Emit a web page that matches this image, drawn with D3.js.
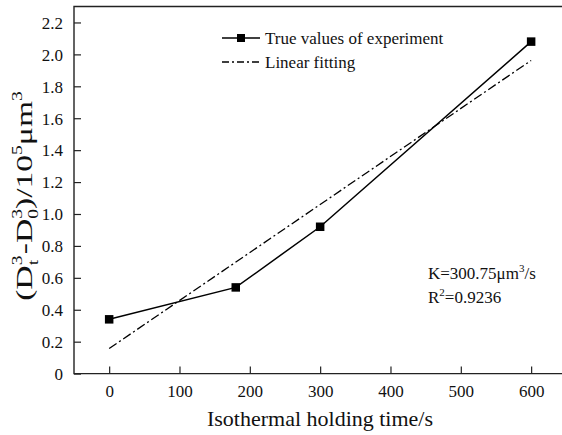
<!DOCTYPE html>
<html>
<head>
<meta charset="utf-8">
<script src="https://cdn.jsdelivr.net/npm/d3@7"></script>
<style>
  html, body { margin: 0; padding: 0; background: #fff; }
  svg { display: block; }
</style>
</head>
<body>
<svg id="chart" width="562" height="435"></svg>
<script>
// Isothermal holding time (s) and measured (Dt^3 - D0^3) in 10^5 µm^3
const times = [0, 180, 300, 600];
const growth = [0.34, 0.54, 0.92, 2.08];

// Linear fit end points (slope K = 300.75 µm^3/s)
const fitTimes = [0, 600];
const fitGrowth = [0.157, 1.962];

const xTicks = [0, 100, 200, 300, 400, 500, 600];
const yTicks = [0, 0.2, 0.4, 0.6, 0.8, 1.0, 1.2, 1.4, 1.6, 1.8, 2.0, 2.2];

const legendLabels = ["True values of experiment", "Linear fitting"];

const svg = d3.select("#chart");
const serif = "'Liberation Serif', 'Times New Roman', serif";

const x = d3.scaleLinear().domain([-50, 650]).range([74, 566.3]);
const y = d3.scaleLinear().domain([0, 2.3]).range([373.6, 6.5]);

const axisColor = "#222";

// Left axis, ticks pointing inward
const yAxis = svg.append("g")
  .attr("transform", `translate(${x(-50)},0)`)
  .call(d3.axisRight(y).tickValues(yTicks).tickSize(7).tickFormat(d => d === 0 ? "0" : d3.format(".1f")(d)));
yAxis.select(".domain").remove();
yAxis.selectAll(".tick line").attr("stroke", axisColor).attr("stroke-width", 1.2);
yAxis.selectAll(".tick text")
  .attr("x", -11).attr("text-anchor", "end").attr("dy", "0.34em")
  .style("font-family", serif).style("font-size", "17px")
  .attr("fill", "#111");

// Bottom axis, ticks pointing inward
const xAxis = svg.append("g")
  .attr("transform", `translate(0,${y(0)})`)
  .call(d3.axisTop(x).tickValues(xTicks).tickSize(7).tickFormat(d3.format("d")));
xAxis.select(".domain").remove();
xAxis.selectAll(".tick line").attr("stroke", axisColor).attr("stroke-width", 1.2);
xAxis.selectAll(".tick text")
  .attr("y", 23).attr("dy", 0)
  .style("font-family", serif).style("font-size", "17px")
  .attr("fill", "#111");

// Frame: left, bottom and top edges
const frame = d3.path();
frame.moveTo(x(650), y(2.3));
frame.lineTo(x(-50), y(2.3));
frame.lineTo(x(-50), y(0));
frame.lineTo(x(650), y(0));
svg.append("path").attr("d", frame.toString())
  .attr("fill", "none").attr("stroke", axisColor).attr("stroke-width", 1.4);

// Linear fitting line
const line = d3.line().x(d => x(d[0])).y(d => y(d[1]));
svg.append("path")
  .datum(fitTimes.map((t, i) => [t, fitGrowth[i]]))
  .attr("d", line)
  .attr("fill", "none").attr("stroke", "#000").attr("stroke-width", 1.3)
  .attr("stroke-dasharray", "9,3,2,3");

// Experimental values
const pts = times.map((t, i) => [t, growth[i]]);
svg.append("path")
  .datum(pts)
  .attr("d", line)
  .attr("fill", "none").attr("stroke", "#000").attr("stroke-width", 1.5);

const ms = 8.5;
svg.selectAll("rect.pt").data(pts).join("rect")
  .attr("class", "pt")
  .attr("x", d => x(d[0]) - ms / 2).attr("y", d => y(d[1]) - ms / 2)
  .attr("width", ms).attr("height", ms).attr("fill", "#000");

// Legend
const lg = svg.append("g");
lg.append("line").attr("x1", 222).attr("x2", 260).attr("y1", 38).attr("y2", 38)
  .attr("stroke", "#000").attr("stroke-width", 1.5);
lg.append("rect").attr("x", 241 - 4).attr("y", 38 - 4).attr("width", 8).attr("height", 8).attr("fill", "#000");
lg.append("line").attr("x1", 222).attr("x2", 260).attr("y1", 62).attr("y2", 62)
  .attr("stroke", "#000").attr("stroke-width", 1.3).attr("stroke-dasharray", "7,3,2,3");
lg.selectAll("text").data(legendLabels).join("text")
  .attr("x", 265).attr("y", (d, i) => 44 + i * 24)
  .style("font-family", serif).style("font-size", "17px")
  .attr("fill", "#111").text(d => d);

// Fit annotation
const ann = svg.append("g").style("font-family", serif).style("font-size", "17px").attr("fill", "#111");
const k = ann.append("text").attr("x", 428).attr("y", 279);
k.append("tspan").text("K=300.75μm");
k.append("tspan").attr("dy", -7).style("font-size", "11px").text("3");
k.append("tspan").attr("dy", 7).text("/s");
const r = ann.append("text").attr("x", 428).attr("y", 303);
r.append("tspan").text("R");
r.append("tspan").attr("dy", -7).style("font-size", "11px").text("2");
r.append("tspan").attr("dy", 7).text("=0.9236");

// Axis titles
svg.append("text")
  .attr("x", 320).attr("y", 426).attr("text-anchor", "middle")
  .style("font-family", serif).style("font-size", "22px").attr("fill", "#111")
  .text("Isothermal holding time/s");

// Vertical title, slightly elongated along its reading direction
const yt = svg.append("text")
  .attr("text-anchor", "middle")
  .style("font-family", serif).style("font-size", "24px").attr("fill", "#111");
yt.append("tspan").text("(D");
yt.append("tspan").attr("dy", -10).style("font-size", "14px").text("3");
yt.append("tspan").attr("dx", -7).attr("dy", 16).style("font-size", "14px").text("t");
yt.append("tspan").attr("dx", 4).attr("dy", -6).text("-D");
yt.append("tspan").attr("dy", -10).style("font-size", "14px").text("3");
yt.append("tspan").attr("dx", -7).attr("dy", 16).style("font-size", "14px").text("0");
yt.append("tspan").attr("dy", -6).text(")/10");
yt.append("tspan").attr("dy", -10).style("font-size", "14px").text("5");
yt.append("tspan").attr("dy", 10).text("μm");
yt.append("tspan").attr("dy", -10).style("font-size", "14px").text("3");
const ytLen = yt.node().getComputedTextLength();
const stretch = ytLen > 0 ? Math.min(1.4, 224 / ytLen) : 1;
yt.attr("transform", `translate(32,196) rotate(-90) scale(${stretch},1)`);
</script>
</body>
</html>
